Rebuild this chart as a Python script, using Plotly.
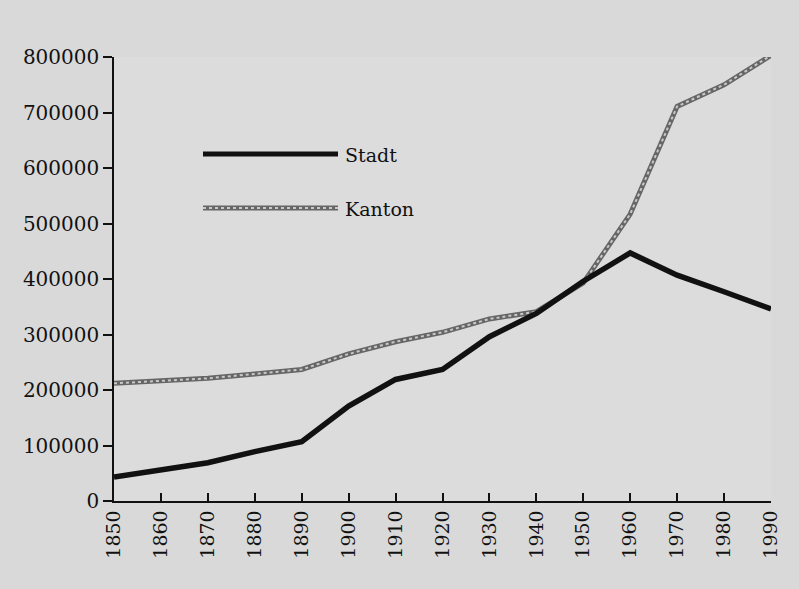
import plotly.graph_objects as go

years = [1850, 1860, 1870, 1880, 1890, 1900, 1910, 1920, 1930, 1940, 1950, 1960, 1970, 1980, 1990]
stadt = [43000, 55000, 69000, 89000, 107000, 171000, 219000, 237000, 296000, 338000, 396000, 447000, 407000, 377000, 346000]
kanton = [212000, 217000, 221000, 229000, 237000, 265000, 287000, 304000, 328000, 341000, 393000, 517000, 711000, 750000, 803000]
y_ticks = [0, 100000, 200000, 300000, 400000, 500000, 600000, 700000, 800000]

FONT = "DejaVu Serif"

fig = go.Figure()
fig.add_trace(go.Scatter(x=years, y=kanton, mode="lines", name="Kanton",
                         line=dict(color="#666666", width=5), showlegend=False))
fig.add_trace(go.Scatter(x=years, y=kanton, mode="lines", name="Kanton",
                         line=dict(color="#c8c8c8", width=2, dash="dot"), showlegend=False))
fig.add_trace(go.Scatter(x=years, y=stadt, mode="lines", name="Stadt",
                         line=dict(color="#111111", width=5.5), showlegend=False))

# manual legend (paper coordinates)
L, R, T, B = 114, 771, 57, 501
W, H = 799, 589
def px(x):
    return (x - L) / (R - L)
def py(y):
    return (B - y) / (B - T)

fig.add_shape(type="line", xref="paper", yref="paper", x0=px(203), x1=px(338), y0=py(154), y1=py(154),
              line=dict(color="#111111", width=5))
fig.add_shape(type="line", xref="paper", yref="paper", x0=px(203), x1=px(338), y0=py(208), y1=py(208),
              line=dict(color="#666666", width=5))
fig.add_shape(type="line", xref="paper", yref="paper", x0=px(203), x1=px(338), y0=py(208), y1=py(208),
              line=dict(color="#c8c8c8", width=2, dash="dot"))
fig.add_annotation(xref="paper", yref="paper", x=px(343), y=py(155), text="Stadt", showarrow=False,
                   xanchor="left", yanchor="middle", font=dict(family=FONT, size=19, color="#111111"))
fig.add_annotation(xref="paper", yref="paper", x=px(343), y=py(209), text="Kanton", showarrow=False,
                   xanchor="left", yanchor="middle", font=dict(family=FONT, size=19, color="#111111"))

fig.update_layout(
    width=W, height=H,
    margin=dict(l=L, r=W - R, t=T, b=H - B),
    paper_bgcolor="#d9d9d9",
    plot_bgcolor="#dcdcdc",
    font=dict(family=FONT, size=20, color="#111111"),
    showlegend=False,
)
fig.update_xaxes(range=[1850, 1990], tickvals=years, ticktext=[str(y) for y in years],
                 tickangle=-90, ticks="inside", ticklen=8, tickwidth=1.5, tickcolor="#111111",
                 showline=True, linecolor="#111111", linewidth=1.5, showgrid=False, zeroline=False,
                 tickfont=dict(family=FONT, size=19, color="#111111"))
fig.update_yaxes(range=[0, 800000], tickvals=y_ticks, ticktext=[str(v) for v in y_ticks],
                 ticks="outside", ticklen=9, tickwidth=1.5, tickcolor="#111111",
                 showline=True, linecolor="#111111", linewidth=1.5, showgrid=False, zeroline=False,
                 tickfont=dict(family=FONT, size=20, color="#111111"))

fig.write_html("out.html", config={"displayModeBar": False},
               post_script="document.body.style.margin='0';document.body.style.background='#d9d9d9';")
